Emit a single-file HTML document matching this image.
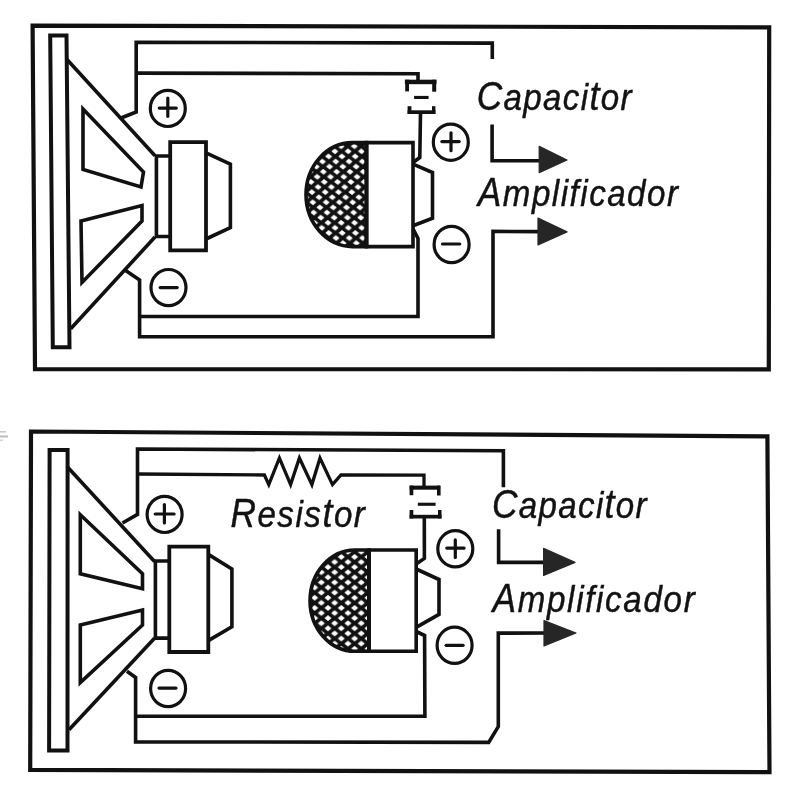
<!DOCTYPE html>
<html><head><meta charset="utf-8"><style>
html,body{margin:0;padding:0;background:#fff;}
svg{display:block;}
text{font-family:"Liberation Sans",sans-serif;font-style:italic;fill:#111;font-variant-ligatures:none;font-kerning:none;}
</style></head><body>
<svg width="800" height="800" viewBox="0 0 800 800">
<defs>
<pattern id="meshT" patternUnits="userSpaceOnUse" width="13.3" height="10.2" patternTransform="translate(2.8,8.55) skewX(5.14)"><rect width="13.3" height="10.2" fill="#111"/><polygon points="-3.10,0.00 0.00,-2.50 3.10,0.00 0.00,2.50" fill="#fff" stroke="#fff" stroke-width="0.7" stroke-linejoin="round"/><polygon points="10.20,0.00 13.30,-2.50 16.40,0.00 13.30,2.50" fill="#fff" stroke="#fff" stroke-width="0.7" stroke-linejoin="round"/><polygon points="-3.10,10.20 0.00,7.70 3.10,10.20 0.00,12.70" fill="#fff" stroke="#fff" stroke-width="0.7" stroke-linejoin="round"/><polygon points="10.20,10.20 13.30,7.70 16.40,10.20 13.30,12.70" fill="#fff" stroke="#fff" stroke-width="0.7" stroke-linejoin="round"/><polygon points="3.55,5.10 6.65,2.60 9.75,5.10 6.65,7.60" fill="#fff" stroke="#fff" stroke-width="0.7" stroke-linejoin="round"/></pattern>
<pattern id="meshB" patternUnits="userSpaceOnUse" width="13.3" height="10.2" patternTransform="translate(8.8,6.15)"><rect width="13.3" height="10.2" fill="#111"/><polygon points="-3.10,0.00 0.00,-2.50 3.10,0.00 0.00,2.50" fill="#fff" stroke="#fff" stroke-width="0.7" stroke-linejoin="round"/><polygon points="10.20,0.00 13.30,-2.50 16.40,0.00 13.30,2.50" fill="#fff" stroke="#fff" stroke-width="0.7" stroke-linejoin="round"/><polygon points="-3.10,10.20 0.00,7.70 3.10,10.20 0.00,12.70" fill="#fff" stroke="#fff" stroke-width="0.7" stroke-linejoin="round"/><polygon points="10.20,10.20 13.30,7.70 16.40,10.20 13.30,12.70" fill="#fff" stroke="#fff" stroke-width="0.7" stroke-linejoin="round"/><polygon points="3.55,5.10 6.65,2.60 9.75,5.10 6.65,7.60" fill="#fff" stroke="#fff" stroke-width="0.7" stroke-linejoin="round"/></pattern>
</defs>
<rect width="800" height="800" fill="#fff"/>
<g fill="none" stroke="#111" stroke-linejoin="miter" stroke-linecap="butt">
<polygon points="32.6,25.6 769.2,27.4 768.8,369.3 35.0,369.2" fill="none" stroke-width="4.2"/>
<polygon points="50.2,35.6 66.5,35.6 69.5,347.2 52.8,347.2" fill="none" stroke-width="4.0"/>
<polyline points="67.0,59.5 155.0,155.8" fill="none" stroke-width="3.6"/>
<polyline points="155.0,237.0 70.7,328.8" fill="none" stroke-width="3.6"/>
<polyline points="170.2,156.0 156.4,156.0 156.4,236.5 170.2,236.5" fill="none" stroke-width="3.6"/>
<polygon points="170.2,142.2 206.0,142.2 206.0,250.3 170.2,250.3" fill="none" stroke-width="3.8"/>
<polyline points="206.0,152.8 230.4,164.1 230.4,227.6 206.0,239.0" fill="none" stroke-width="3.6"/>
<polygon points="83.0,109.0 143.5,172.0 141.0,187.0 83.0,169.5" fill="none" stroke-width="3.6"/>
<polygon points="81.0,221.0 142.0,205.6 142.0,221.0 82.0,282.5" fill="none" stroke-width="3.6"/>
<polyline points="121.0,118.0 136.2,112.0 136.2,42.3 492.3,43.1 492.3,59.0" fill="none" stroke-width="3.6"/>
<polyline points="136.2,73.1 418.0,73.8 418.0,80.5" fill="none" stroke-width="3.6"/>
<rect x="404.9" y="79.7" width="31.6" height="4.5" fill="#111" stroke="none"/>
<rect x="405.2" y="79.7" width="3.8" height="11.7" fill="#111" stroke="none"/>
<rect x="432.2" y="79.7" width="4.0" height="12.0" fill="#111" stroke="none"/>
<rect x="414.1" y="95.9" width="14.5" height="3.1" fill="#111" stroke="none"/>
<rect x="407.6" y="110.3" width="27.8" height="3.7" fill="#111" stroke="none"/>
<rect x="407.6" y="106.2" width="3.8" height="7.8" fill="#111" stroke="none"/>
<rect x="432.0" y="106.2" width="3.4" height="7.8" fill="#111" stroke="none"/>
<polyline points="420.5,113.0 419.8,157.5 413.0,162.5" fill="none" stroke-width="3.6"/>
<polyline points="413.0,228.8 418.0,238.5 418.0,316.5 139.6,316.5" fill="none" stroke-width="3.6"/>
<polyline points="125.6,270.6 139.6,280.0 139.6,336.8 493.0,336.8 493.0,231.4 540.0,231.6" fill="none" stroke-width="3.6"/>
<polyline points="492.1,124.6 492.1,160.8 541.0,160.8" fill="none" stroke-width="3.6"/>
<polygon points="539.2,146.3 567.0,160.0 539.2,172.6" fill="#262626" stroke="#262626" stroke-width="1.2" stroke-linejoin="round"/>
<polygon points="538.0,218.1 567.0,231.9 538.0,245.0" fill="#262626" stroke="#262626" stroke-width="1.2" stroke-linejoin="round"/>
<ellipse cx="167.8" cy="108.4" rx="17.5" ry="18.1" fill="none" stroke-width="3.2"/>
<line x1="159.3" y1="108.1" x2="176.3" y2="108.1" stroke-width="3.2" stroke-linecap="round"/>
<line x1="167.8" y1="98.1" x2="167.8" y2="116.3" stroke-width="3.2" stroke-linecap="round"/>
<ellipse cx="168.5" cy="287.6" rx="17.5" ry="18.1" fill="none" stroke-width="3.2"/>
<line x1="160.2" y1="287.6" x2="177.2" y2="287.6" stroke-width="3.2" stroke-linecap="round"/>
<ellipse cx="450.8" cy="142.2" rx="17.5" ry="18.1" fill="none" stroke-width="3.2"/>
<line x1="441.9" y1="141.6" x2="459.2" y2="141.6" stroke-width="3.2" stroke-linecap="round"/>
<line x1="451" y1="132.8" x2="451" y2="150.75" stroke-width="3.2" stroke-linecap="round"/>
<ellipse cx="451.6" cy="244.5" rx="17.5" ry="18.1" fill="none" stroke-width="3.2"/>
<line x1="442.5" y1="244" x2="459.7" y2="244" stroke-width="3.2" stroke-linecap="round"/>
<path d="M366.5,142.6 H352.5 A46.5,52.0 0 0 0 352.5,246.6 H366.5 Z" fill="url(#meshT)" stroke-width="3.6"/>
<polygon points="366.5,142.6 413.0,142.6 413.0,246.6 366.5,246.6" fill="none" stroke-width="3.6"/>
<line x1="366.5" y1="142.6" x2="366.5" y2="246.6" stroke-width="3.6" stroke-linecap="butt"/>
<polyline points="413.0,164.2 432.5,172.5 432.5,218.2 413.0,225.8" fill="none" stroke-width="3.6"/>
<polygon points="31.0,431.5 767.4,436.4 769.5,772.2 30.2,769.9" fill="none" stroke-width="4.2"/>
<polygon points="49.6,450.1 67.6,450.1 67.5,750.6 49.1,750.6" fill="none" stroke-width="4.0"/>
<polyline points="67.5,467.0 154.5,561.5" fill="none" stroke-width="3.6"/>
<polyline points="154.5,638.3 69.0,729.8" fill="none" stroke-width="3.6"/>
<polyline points="169.3,561.0 155.4,561.0 155.4,638.1 169.3,638.1" fill="none" stroke-width="3.6"/>
<polygon points="169.3,546.7 208.3,546.7 208.3,652.0 169.3,652.0" fill="none" stroke-width="3.8"/>
<polyline points="208.3,554.4 231.9,569.0 231.9,626.7 208.3,640.6" fill="none" stroke-width="3.6"/>
<polygon points="80.3,514.7 142.5,573.8 142.5,588.8 80.3,573.8" fill="none" stroke-width="3.6"/>
<polygon points="80.3,625.0 142.5,610.0 142.5,625.0 80.3,682.6" fill="none" stroke-width="3.6"/>
<polyline points="122.5,523.0 137.5,514.4 137.5,449.0 503.4,450.8 503.4,487.2" fill="none" stroke-width="3.6"/>
<polyline points="137.5,474.0 264.4,475.0 268.8,484.6 279.4,458.0 290.6,484.6 299.4,458.0 311.9,484.6 320.0,458.0 332.5,484.6 341.0,475.0 424.0,475.1 424.0,486.5" fill="none" stroke-width="3.3"/>
<rect x="409.6" y="485.6" width="30.5" height="4.1" fill="#111" stroke="none"/>
<rect x="409.6" y="485.6" width="3.7" height="9.6" fill="#111" stroke="none"/>
<rect x="437.0" y="485.6" width="3.6" height="9.9" fill="#111" stroke="none"/>
<rect x="417.8" y="502.7" width="17.8" height="3.1" fill="#111" stroke="none"/>
<rect x="409.6" y="514.8" width="31.9" height="3.7" fill="#111" stroke="none"/>
<rect x="409.6" y="510.0" width="3.7" height="8.5" fill="#111" stroke="none"/>
<rect x="438.0" y="510.0" width="3.5" height="8.5" fill="#111" stroke="none"/>
<polyline points="424.3,517.0 424.4,558.4 416.2,564.0" fill="none" stroke-width="3.6"/>
<polyline points="416.2,631.5 424.6,635.5 424.9,716.2 135.6,716.2" fill="none" stroke-width="3.6"/>
<polyline points="126.9,671.2 135.6,677.5 135.6,741.9 488.7,742.4 498.3,726.6 498.3,633.1 546.0,633.0" fill="none" stroke-width="3.6"/>
<polyline points="498.6,529.2 498.6,562.4 546.0,562.4" fill="none" stroke-width="3.6"/>
<polygon points="543.6,548.4 575.0,562.4 543.6,575.5" fill="#262626" stroke="#262626" stroke-width="1.2" stroke-linejoin="round"/>
<polygon points="544.0,620.5 576.0,633.0 544.0,646.0" fill="#262626" stroke="#262626" stroke-width="1.2" stroke-linejoin="round"/>
<ellipse cx="164.6" cy="514.4" rx="17.5" ry="18.1" fill="none" stroke-width="3.2"/>
<line x1="155.25" y1="514" x2="174.1" y2="514" stroke-width="3.2" stroke-linecap="round"/>
<line x1="164.4" y1="504.5" x2="164.4" y2="522.9" stroke-width="3.2" stroke-linecap="round"/>
<ellipse cx="168.1" cy="688.5" rx="17.5" ry="18.1" fill="none" stroke-width="3.2"/>
<line x1="159.0" y1="688.1" x2="176.0" y2="688.1" stroke-width="3.2" stroke-linecap="round"/>
<ellipse cx="455.3" cy="548.8" rx="17.5" ry="18.1" fill="none" stroke-width="3.2"/>
<line x1="446.8" y1="548.1" x2="464.1" y2="548.1" stroke-width="3.2" stroke-linecap="round"/>
<line x1="455.3" y1="539.9" x2="455.3" y2="557.5" stroke-width="3.2" stroke-linecap="round"/>
<ellipse cx="454.6" cy="645.3" rx="17.5" ry="18.1" fill="none" stroke-width="3.2"/>
<line x1="446.1" y1="645.3" x2="463.1" y2="645.3" stroke-width="3.2" stroke-linecap="round"/>
<path d="M369,550 H355 A45,50.64999999999998 0 0 0 355,651.3 H369 Z" fill="url(#meshB)" stroke-width="3.6"/>
<polygon points="369.0,550.0 416.2,550.0 416.2,651.3 369.0,651.3" fill="none" stroke-width="3.6"/>
<line x1="369" y1="550" x2="369" y2="651.3" stroke-width="3.6" stroke-linecap="butt"/>
<polyline points="416.2,569.0 439.0,579.5 439.0,614.4 416.2,627.4" fill="none" stroke-width="3.6"/>
<g stroke="none"><rect x="0" y="431" width="6" height="1.6" fill="#c8c8c8"/><rect x="0" y="435.5" width="8" height="2" fill="#bbb"/><rect x="0" y="439.5" width="3" height="1.4" fill="#d0d0d0"/></g>
<g style="opacity:0.995" stroke="#111" stroke-width="0.45" stroke-linejoin="round"><text transform="scale(0.92,1.05)" x="518.26" y="104.48" font-size="36" textLength="168.15" lengthAdjust="spacing"><tspan font-size="38.34">C</tspan>apaci<tspan font-size="39.10">t</tspan>or</text>
<text transform="scale(0.92,1.05)" x="519.35" y="196.19" font-size="36" textLength="217.61" lengthAdjust="spacing"><tspan font-size="38.34">A</tspan>mplificador</text>
<text transform="scale(0.92,1.05)" x="250.43" y="502.19" font-size="36" textLength="146.20" lengthAdjust="spacing"><tspan font-size="38.34">R</tspan>esis<tspan font-size="39.10">t</tspan>or</text>
<text transform="scale(0.92,1.05)" x="534.89" y="493.43" font-size="36" textLength="167.93" lengthAdjust="spacing"><tspan font-size="38.34">C</tspan>apaci<tspan font-size="39.10">t</tspan>or</text>
<text transform="scale(0.92,1.05)" x="535.33" y="582.95" font-size="36" textLength="219.78" lengthAdjust="spacing"><tspan font-size="38.34">A</tspan>mplificador</text></g>
</g>
</svg>
</body></html>
